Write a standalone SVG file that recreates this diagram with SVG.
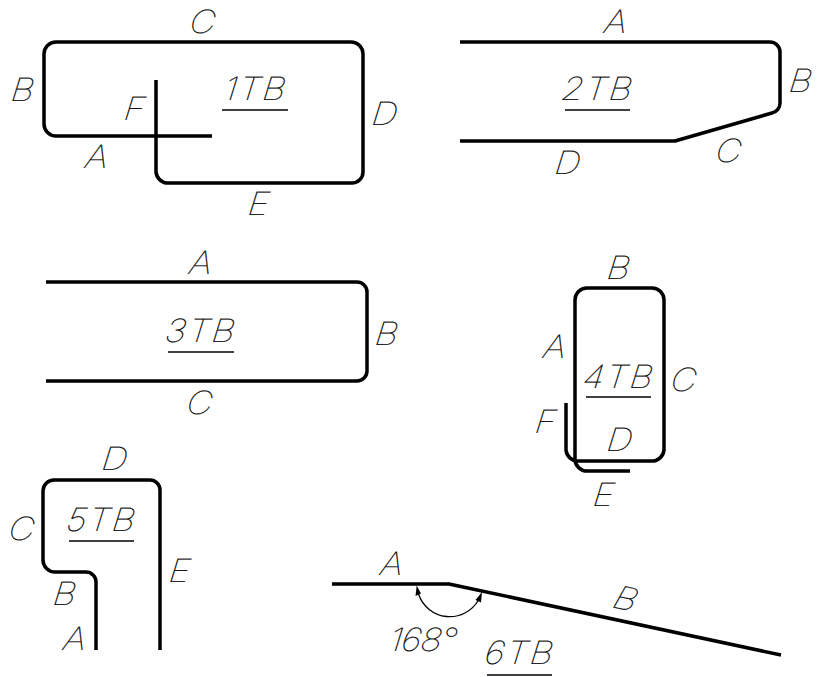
<svg xmlns="http://www.w3.org/2000/svg" width="823" height="677" viewBox="0 0 823 677">
<style>
.bar{fill:none;stroke:#000;stroke-width:3.5;stroke-linejoin:round}
.thin{fill:none;stroke:#000;stroke-width:1.3}
.head{fill:#000}
text{font-family:"Inter","DejaVu Sans",sans-serif;font-weight:100;font-style:italic;font-size:32px;fill:#000;stroke:#000;stroke-width:.25;text-anchor:middle;transform-box:fill-box;transform-origin:center;transform:skewX(-7deg) scaleX(1.12)}
.t{letter-spacing:1.500px}
.r{transform:rotate(12deg) skewX(-7deg) scaleX(1.12)}
</style>
<g id="connectors">
<path class="thin" d="M418.500,594 A33,33 0 0 0 478.500,600"/>
<path class="head" d="M416.700,585.500 L415.500,596 L421,593.500Z"/>
<path class="head" d="M482,592 L475.500,600 L481,602.500Z"/>
</g>
<g id="n1"><path class="bar" d="M156,80V172A12,12 0 0 0 168,183H352A11,11 0 0 0 363,172V54A12,12 0 0 0 351,42H56A12,12 0 0 0 44,54V124A12,12 0 0 0 56,136H212"/>
<path class="thin" d="M222,110H288"/>
<text x="203" y="33">C</text><text x="23" y="101">B</text><text x="135" y="120">F</text><text x="97" y="168">A</text><text x="385" y="125">D</text><text x="259" y="215">E</text><text class="t" x="256" y="100">1TB</text></g>
<g id="n2"><path class="bar" d="M460,42H770A10,10 0 0 1 780,52V103A10,10 0 0 1 772,113L675,141H460"/>
<path class="thin" d="M565,110H630"/>
<text x="616" y="33">A</text><text x="801" y="92">B</text><text x="729" y="162">C</text><text x="568" y="174">D</text><text class="t" x="598" y="100">2TB</text></g>
<g id="n3"><path class="bar" d="M46,282H357A10,10 0 0 1 367,292V371A10,10 0 0 1 357,381H46"/>
<path class="thin" d="M168,352H234"/>
<text x="201" y="274">A</text><text x="387" y="345">B</text><text x="200" y="414">C</text><text class="t" x="201" y="342">3TB</text></g>
<g id="n4"><path class="bar" d="M566,403V450A12,12 0 0 0 578,461H652A12,12 0 0 0 664,450V300A12,12 0 0 0 652,288H587A12,12 0 0 0 575,300V460A12,12 0 0 0 587,471H630"/>
<path class="thin" d="M586,397H651"/>
<text x="619" y="279">B</text><text x="555" y="358">A</text><text x="684" y="391">C</text><text x="546" y="433">F</text><text x="620" y="451">D</text><text x="604" y="506">E</text><text class="t" x="619" y="388">4TB</text></g>
<g id="n5"><path class="bar" d="M96,650V582A10,10 0 0 0 86,572H55A12,12 0 0 1 43,560V491A11,11 0 0 1 54,480H150A10,10 0 0 1 160,490V650"/>
<path class="thin" d="M69,541H134"/>
<text x="115" y="470">D</text><text x="22" y="540">C</text><text x="65" y="605">B</text><text x="75" y="650">A</text><text x="180" y="582">E</text><text class="t" x="102" y="531">5TB</text></g>
<g id="n6"><path class="bar" d="M332,584H449L781,655"/>
<text x="392" y="575">A</text><text class="r" x="626" y="610">B</text><text x="423" y="651" style="letter-spacing:-1px">168°</text><text class="t" x="520" y="664">6TB</text>
<path class="thin" d="M487,675H552"/></g>
</svg>
